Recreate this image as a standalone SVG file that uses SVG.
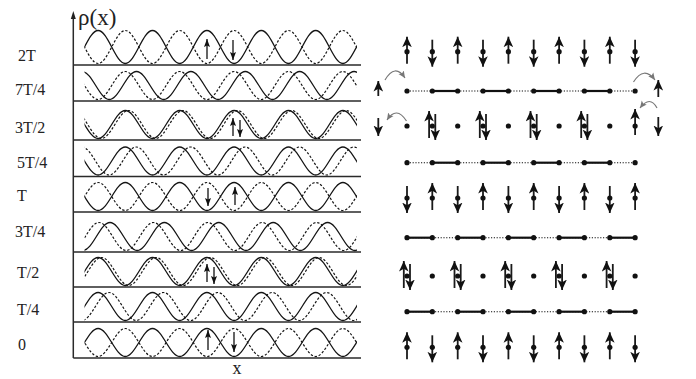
<svg xmlns="http://www.w3.org/2000/svg" width="696" height="379" viewBox="0 0 696 379">
<style>
.bg{fill:#fff}
.lbl{font-family:"Liberation Serif","Times New Roman",serif;font-size:16px;fill:#222}
.ax{stroke:#2a2a2a;stroke-width:1.5;fill:none}
.sol{fill:none;stroke:#151515;stroke-width:1.3}
.dot{fill:none;stroke:#151515;stroke-width:1.2;stroke-dasharray:2.4 1.8}
.la{stroke:#111;stroke-width:1.3;fill:none;marker-end:url(#ahs)}
.ra{stroke:#1a1a1a;stroke-width:1.8;fill:none;marker-end:url(#ah)}
.st{fill:#111}
.bs{stroke:#111;stroke-width:2.2}
.bd{stroke:#111;stroke-width:1.1;stroke-dasharray:1.2 1.6}
.cv{fill:none;stroke:#777;stroke-width:1.2;marker-end:url(#ahg)}
</style>
<defs>
<marker id="ah" markerUnits="userSpaceOnUse" viewBox="0 -5 11 10" markerWidth="11" markerHeight="10" refX="10.5" refY="0" orient="auto"><path d="M0,-4.8 L10.5,0 L0,4.8 L2.8,0 z" fill="#111"/></marker>
<marker id="ahs" markerUnits="userSpaceOnUse" viewBox="0 -4 8 8" markerWidth="8" markerHeight="8" refX="8" refY="0" orient="auto"><path d="M0,-3 L8,0 L0,3 L1.5,0 z" fill="#111"/></marker>
<marker id="ahg" markerUnits="userSpaceOnUse" viewBox="0 -4 8 8" markerWidth="8" markerHeight="8" refX="7" refY="0" orient="auto"><path d="M0,-3.2 L7,0 L0,3.2 L1.5,0 z" fill="#777"/></marker>
<path id="w28" d="M0,0c9.885,0 17.315,28 27.2,28s17.315,-28 27.2,-28s17.315,28 27.2,28s17.315,-28 27.2,-28s17.315,28 27.2,28s17.315,-28 27.2,-28s17.315,28 27.2,28s17.315,-28 27.2,-28s17.315,28 27.2,28s17.315,-28 27.2,-28s17.315,28 27.2,28s17.315,-28 27.2,-28s17.315,28 27.2,28s17.315,-28 27.2,-28"/>
<path id="w33" d="M0,0c9.885,0 17.315,33 27.2,33s17.315,-33 27.2,-33s17.315,33 27.2,33s17.315,-33 27.2,-33s17.315,33 27.2,33s17.315,-33 27.2,-33s17.315,33 27.2,33s17.315,-33 27.2,-33s17.315,33 27.2,33s17.315,-33 27.2,-33s17.315,33 27.2,33s17.315,-33 27.2,-33s17.315,33 27.2,33s17.315,-33 27.2,-33"/>
<clipPath id="cw"><rect x="84.5" y="0" width="272.5" height="379"/></clipPath>
</defs>
<rect class="bg" x="0" y="0" width="696" height="379"/>

<g id="axes">
<line class="ax" x1="73.3" y1="358" x2="73.3" y2="17"/>
<path d="M73.3,11 L70.8,19 L75.8,19 z" fill="#222"/>
<text x="78" y="25" font-family="Liberation Serif, serif" font-size="23" fill="#222">ρ(x)</text>
<text x="237" y="374" font-family="Liberation Serif, serif" font-size="18" fill="#222" text-anchor="middle">x</text>
<g class="ax">
<line x1="73.3" y1="65" x2="361" y2="65"/>
<line x1="73.3" y1="101" x2="361" y2="101"/>
<line x1="73.3" y1="140" x2="361" y2="140"/>
<line x1="73.3" y1="176.5" x2="361" y2="176.5"/>
<line x1="73.3" y1="212" x2="361" y2="212"/>
<line x1="73.3" y1="252" x2="361" y2="252"/>
<line x1="73.3" y1="287" x2="361" y2="287"/>
<line x1="73.3" y1="322" x2="361" y2="322"/>
<line x1="73.3" y1="358" x2="361" y2="358"/>
</g>
</g>

<g id="labels" class="lbl">
<text x="18" y="61">2T</text>
<text x="15" y="95">7T/4</text>
<text x="15" y="132.5">3T/2</text>
<text x="17" y="168">5T/4</text>
<text x="17" y="200.5">T</text>
<text x="15" y="236.5">3T/4</text>
<text x="17" y="278">T/2</text>
<text x="17" y="314.5">T/4</text>
<text x="18" y="349.5">0</text>
</g>

<g id="waves" clip-path="url(#cw)">
<g id="row-2T"><use href="#w33" class="sol" transform="translate(43.7,30.5)"/><use href="#w33" class="dot" transform="translate(70.9,30.5)"/></g>
<g id="row-7T4"><use href="#w28" class="sol" transform="translate(82.1,71.5)"/><use href="#w28" class="dot" transform="translate(70.9,71.5)"/></g>
<g id="row-3T2"><use href="#w28" class="sol" transform="translate(70.9,110.5)"/><use href="#w28" class="dot" transform="translate(74.1,110.5)"/></g>
<g id="row-5T4"><use href="#w28" class="sol" transform="translate(70.9,147)"/><use href="#w28" class="dot" transform="translate(81.9,147)"/></g>
<g id="row-T"><use href="#w28" class="sol" transform="translate(70.9,182.5)"/><use href="#w28" class="dot" transform="translate(43.7,182.5)"/></g>
<g id="row-3T4"><use href="#w28" class="sol" transform="translate(55.6,222.5)"/><use href="#w28" class="dot" transform="translate(44.6,222.5)"/></g>
<g id="row-T2"><use href="#w28" class="sol" transform="translate(43.7,257.5)"/><use href="#w28" class="dot" transform="translate(47.1,257.5)"/></g>
<g id="row-T4"><use href="#w28" class="sol" transform="translate(43.7,292.5)"/><use href="#w28" class="dot" transform="translate(54.6,292.5)"/></g>
<g id="row-0"><use href="#w28" class="sol" transform="translate(43.7,328.5)"/><use href="#w28" class="dot" transform="translate(70.9,328.5)"/></g>
</g>

<g id="left-spins">
<line class="la" x1="207" y1="59" x2="207" y2="39"/>
<line class="la" x1="233" y1="40" x2="233" y2="60"/>
<line class="la" x1="233" y1="136" x2="233" y2="118"/>
<line class="la" x1="240" y1="120" x2="240" y2="137"/>
<line class="la" x1="208" y1="188" x2="208" y2="206"/>
<line class="la" x1="235" y1="205" x2="235" y2="187"/>
<line class="la" x1="207" y1="282" x2="207" y2="264"/>
<line class="la" x1="214" y1="267" x2="214" y2="284"/>
<line class="la" x1="208" y1="350" x2="208" y2="330"/>
<line class="la" x1="234" y1="332" x2="234" y2="352"/>
</g>

<g id="chain-2T">
<line class="ra" x1="407" y1="63.7" x2="407" y2="36.7"/>
<line class="ra" x1="432.3" y1="39.7" x2="432.3" y2="66.7"/>
<line class="ra" x1="457.7" y1="63.7" x2="457.7" y2="36.7"/>
<line class="ra" x1="483" y1="39.7" x2="483" y2="66.7"/>
<line class="ra" x1="508.4" y1="63.7" x2="508.4" y2="36.7"/>
<line class="ra" x1="533.7" y1="39.7" x2="533.7" y2="66.7"/>
<line class="ra" x1="559.1" y1="63.7" x2="559.1" y2="36.7"/>
<line class="ra" x1="584.4" y1="39.7" x2="584.4" y2="66.7"/>
<line class="ra" x1="609.8" y1="63.7" x2="609.8" y2="36.7"/>
<line class="ra" x1="635.1" y1="39.7" x2="635.1" y2="66.7"/>
<g class="st"><circle cx="407" cy="51.7" r="2.6"/><circle cx="432.3" cy="51.7" r="2.6"/><circle cx="457.7" cy="51.7" r="2.6"/><circle cx="483" cy="51.7" r="2.6"/><circle cx="508.4" cy="51.7" r="2.6"/><circle cx="533.7" cy="51.7" r="2.6"/><circle cx="559.1" cy="51.7" r="2.6"/><circle cx="584.4" cy="51.7" r="2.6"/><circle cx="609.8" cy="51.7" r="2.6"/><circle cx="635.1" cy="51.7" r="2.6"/></g>
</g>

<g id="chain-7T4">
<line class="bd" x1="407" y1="91" x2="635.1" y2="91"/>
<line class="bs" x1="432.3" y1="91" x2="457.7" y2="91"/>
<line class="bs" x1="483" y1="91" x2="508.4" y2="91"/>
<line class="bs" x1="533.7" y1="91" x2="559.1" y2="91"/>
<line class="bs" x1="584.4" y1="91" x2="609.8" y2="91"/>
<g class="st"><circle cx="407" cy="91" r="2.6"/><circle cx="432.3" cy="91" r="2.6"/><circle cx="457.7" cy="91" r="2.6"/><circle cx="483" cy="91" r="2.6"/><circle cx="508.4" cy="91" r="2.6"/><circle cx="533.7" cy="91" r="2.6"/><circle cx="559.1" cy="91" r="2.6"/><circle cx="584.4" cy="91" r="2.6"/><circle cx="609.8" cy="91" r="2.6"/><circle cx="635.1" cy="91" r="2.6"/></g>
<line class="ra" x1="378.3" y1="96" x2="378.3" y2="81"/>
<line class="ra" x1="658.3" y1="97" x2="658.3" y2="80"/>
</g>

<g id="chain-3T2">
<line class="ra" x1="378.3" y1="118" x2="378.3" y2="136"/>
<line class="ra" x1="429.1" y1="138" x2="429.1" y2="111"/>
<line class="ra" x1="435.3" y1="114" x2="435.3" y2="140"/>
<line class="ra" x1="479.8" y1="138" x2="479.8" y2="111"/>
<line class="ra" x1="486" y1="114" x2="486" y2="140"/>
<line class="ra" x1="530.5" y1="138" x2="530.5" y2="111"/>
<line class="ra" x1="536.7" y1="114" x2="536.7" y2="140"/>
<line class="ra" x1="581.2" y1="138" x2="581.2" y2="111"/>
<line class="ra" x1="587.4" y1="114" x2="587.4" y2="140"/>
<line class="ra" x1="635.1" y1="135" x2="635.1" y2="109"/>
<line class="ra" x1="658.3" y1="117" x2="658.3" y2="136"/>
<g class="st"><circle cx="407" cy="126" r="2.6"/><circle cx="432.3" cy="126" r="2.6"/><circle cx="457.7" cy="126" r="2.6"/><circle cx="483" cy="126" r="2.6"/><circle cx="508.4" cy="126" r="2.6"/><circle cx="533.7" cy="126" r="2.6"/><circle cx="559.1" cy="126" r="2.6"/><circle cx="584.4" cy="126" r="2.6"/><circle cx="609.8" cy="126" r="2.6"/><circle cx="635.1" cy="126" r="2.6"/></g>
</g>

<g id="chain-5T4">
<line class="bd" x1="407" y1="162.7" x2="635.1" y2="162.7"/>
<line class="bs" x1="432.3" y1="162.7" x2="457.7" y2="162.7"/>
<line class="bs" x1="483" y1="162.7" x2="508.4" y2="162.7"/>
<line class="bs" x1="533.7" y1="162.7" x2="559.1" y2="162.7"/>
<line class="bs" x1="584.4" y1="162.7" x2="609.8" y2="162.7"/>
<g class="st"><circle cx="407" cy="162.7" r="2.6"/><circle cx="432.3" cy="162.7" r="2.6"/><circle cx="457.7" cy="162.7" r="2.6"/><circle cx="483" cy="162.7" r="2.6"/><circle cx="508.4" cy="162.7" r="2.6"/><circle cx="533.7" cy="162.7" r="2.6"/><circle cx="559.1" cy="162.7" r="2.6"/><circle cx="584.4" cy="162.7" r="2.6"/><circle cx="609.8" cy="162.7" r="2.6"/><circle cx="635.1" cy="162.7" r="2.6"/></g>
</g>

<g id="chain-T">
<line class="ra" x1="407" y1="186" x2="407" y2="213"/>
<line class="ra" x1="432.3" y1="210" x2="432.3" y2="183"/>
<line class="ra" x1="457.7" y1="186" x2="457.7" y2="213"/>
<line class="ra" x1="483" y1="210" x2="483" y2="183"/>
<line class="ra" x1="508.4" y1="186" x2="508.4" y2="213"/>
<line class="ra" x1="533.7" y1="210" x2="533.7" y2="183"/>
<line class="ra" x1="559.1" y1="186" x2="559.1" y2="213"/>
<line class="ra" x1="584.4" y1="210" x2="584.4" y2="183"/>
<line class="ra" x1="609.8" y1="186" x2="609.8" y2="213"/>
<line class="ra" x1="635.1" y1="210" x2="635.1" y2="183"/>
<g class="st"><circle cx="407" cy="198" r="2.6"/><circle cx="432.3" cy="198" r="2.6"/><circle cx="457.7" cy="198" r="2.6"/><circle cx="483" cy="198" r="2.6"/><circle cx="508.4" cy="198" r="2.6"/><circle cx="533.7" cy="198" r="2.6"/><circle cx="559.1" cy="198" r="2.6"/><circle cx="584.4" cy="198" r="2.6"/><circle cx="609.8" cy="198" r="2.6"/><circle cx="635.1" cy="198" r="2.6"/></g>
</g>

<g id="chain-3T4">
<line class="bd" x1="407" y1="237.7" x2="635.1" y2="237.7"/>
<line class="bs" x1="407" y1="237.7" x2="432.3" y2="237.7"/>
<line class="bs" x1="457.7" y1="237.7" x2="483" y2="237.7"/>
<line class="bs" x1="508.4" y1="237.7" x2="533.7" y2="237.7"/>
<line class="bs" x1="559.1" y1="237.7" x2="584.4" y2="237.7"/>
<line class="bs" x1="609.8" y1="237.7" x2="635.1" y2="237.7"/>
<g class="st"><circle cx="407" cy="237.7" r="2.6"/><circle cx="432.3" cy="237.7" r="2.6"/><circle cx="457.7" cy="237.7" r="2.6"/><circle cx="483" cy="237.7" r="2.6"/><circle cx="508.4" cy="237.7" r="2.6"/><circle cx="533.7" cy="237.7" r="2.6"/><circle cx="559.1" cy="237.7" r="2.6"/><circle cx="584.4" cy="237.7" r="2.6"/><circle cx="609.8" cy="237.7" r="2.6"/><circle cx="635.1" cy="237.7" r="2.6"/></g>
</g>

<g id="chain-T2">
<line class="ra" x1="403.8" y1="288" x2="403.8" y2="261"/>
<line class="ra" x1="410" y1="264" x2="410" y2="290"/>
<line class="ra" x1="454.5" y1="288" x2="454.5" y2="261"/>
<line class="ra" x1="460.7" y1="264" x2="460.7" y2="290"/>
<line class="ra" x1="505.2" y1="288" x2="505.2" y2="261"/>
<line class="ra" x1="511.4" y1="264" x2="511.4" y2="290"/>
<line class="ra" x1="555.9" y1="288" x2="555.9" y2="261"/>
<line class="ra" x1="562.1" y1="264" x2="562.1" y2="290"/>
<line class="ra" x1="606.6" y1="288" x2="606.6" y2="261"/>
<line class="ra" x1="612.8" y1="264" x2="612.8" y2="290"/>
<g class="st"><circle cx="407" cy="276" r="2.6"/><circle cx="432.3" cy="276" r="2.6"/><circle cx="457.7" cy="276" r="2.6"/><circle cx="483" cy="276" r="2.6"/><circle cx="508.4" cy="276" r="2.6"/><circle cx="533.7" cy="276" r="2.6"/><circle cx="559.1" cy="276" r="2.6"/><circle cx="584.4" cy="276" r="2.6"/><circle cx="609.8" cy="276" r="2.6"/><circle cx="635.1" cy="276" r="2.6"/></g>
</g>

<g id="chain-T4">
<line class="bd" x1="407" y1="311.7" x2="635.1" y2="311.7"/>
<line class="bs" x1="407" y1="311.7" x2="432.3" y2="311.7"/>
<line class="bs" x1="457.7" y1="311.7" x2="483" y2="311.7"/>
<line class="bs" x1="508.4" y1="311.7" x2="533.7" y2="311.7"/>
<line class="bs" x1="559.1" y1="311.7" x2="584.4" y2="311.7"/>
<line class="bs" x1="609.8" y1="311.7" x2="635.1" y2="311.7"/>
<g class="st"><circle cx="407" cy="311.7" r="2.6"/><circle cx="432.3" cy="311.7" r="2.6"/><circle cx="457.7" cy="311.7" r="2.6"/><circle cx="483" cy="311.7" r="2.6"/><circle cx="508.4" cy="311.7" r="2.6"/><circle cx="533.7" cy="311.7" r="2.6"/><circle cx="559.1" cy="311.7" r="2.6"/><circle cx="584.4" cy="311.7" r="2.6"/><circle cx="609.8" cy="311.7" r="2.6"/><circle cx="635.1" cy="311.7" r="2.6"/></g>
</g>

<g id="chain-0">
<line class="ra" x1="407" y1="359.3" x2="407" y2="332.3"/>
<line class="ra" x1="432.3" y1="335.3" x2="432.3" y2="362.3"/>
<line class="ra" x1="457.7" y1="359.3" x2="457.7" y2="332.3"/>
<line class="ra" x1="483" y1="335.3" x2="483" y2="362.3"/>
<line class="ra" x1="508.4" y1="359.3" x2="508.4" y2="332.3"/>
<line class="ra" x1="533.7" y1="335.3" x2="533.7" y2="362.3"/>
<line class="ra" x1="559.1" y1="359.3" x2="559.1" y2="332.3"/>
<line class="ra" x1="584.4" y1="335.3" x2="584.4" y2="362.3"/>
<line class="ra" x1="609.8" y1="359.3" x2="609.8" y2="332.3"/>
<line class="ra" x1="635.1" y1="335.3" x2="635.1" y2="362.3"/>
<g class="st"><circle cx="407" cy="347.3" r="2.6"/><circle cx="432.3" cy="347.3" r="2.6"/><circle cx="457.7" cy="347.3" r="2.6"/><circle cx="483" cy="347.3" r="2.6"/><circle cx="508.4" cy="347.3" r="2.6"/><circle cx="533.7" cy="347.3" r="2.6"/><circle cx="559.1" cy="347.3" r="2.6"/><circle cx="584.4" cy="347.3" r="2.6"/><circle cx="609.8" cy="347.3" r="2.6"/><circle cx="635.1" cy="347.3" r="2.6"/></g>
</g>

<g id="connectors">
<path class="cv" d="M385,80 Q395,63 405,78"/>
<path class="cv" d="M633.5,82 Q644,65.5 655,80"/>
<path class="cv" d="M406.5,121 Q396.5,105.5 387,120"/>
<path class="cv" d="M657,108 Q650,95 640,108"/>
</g>
</svg>
